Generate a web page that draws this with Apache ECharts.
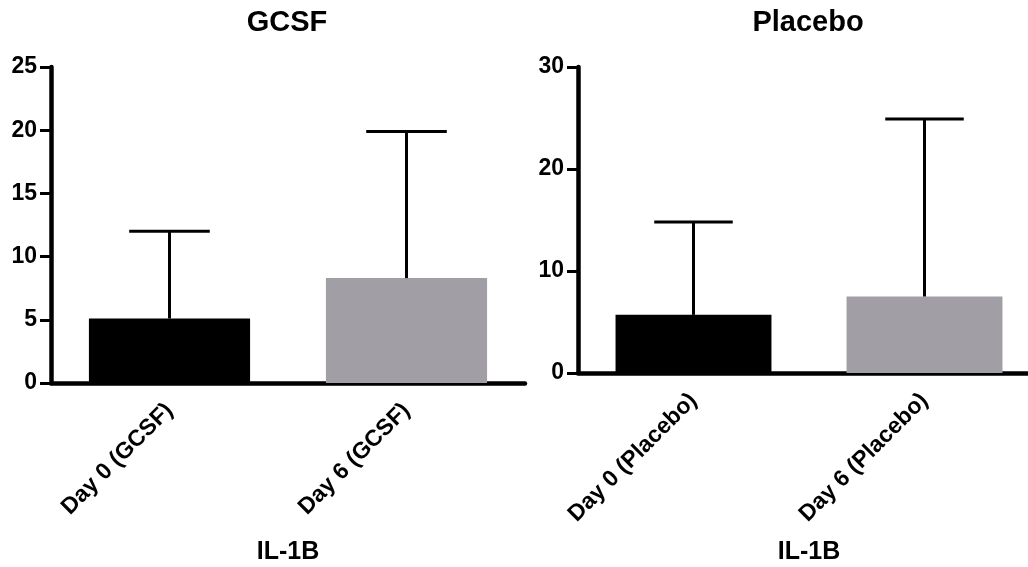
<!DOCTYPE html>
<html>
<head>
<meta charset="utf-8">
<script src="https://cdn.jsdelivr.net/npm/echarts@6/dist/echarts.min.js"></script>
<style>
  html, body { margin: 0; padding: 0; background: #fff; }
  #chart { width: 1028px; height: 567px; }
</style>
</head>
<body>
<div id="chart"></div>
<script>
// values (mean + upper end of error bar)
const catsGcsf = ['Day 0 (GCSF)', 'Day 6 (GCSF)']
const meanGcsf = [5.1, 8.3]
const upperGcsf = [12.0, 19.9]

const catsPlacebo = ['Day 0 (Placebo)', 'Day 6 (Placebo)']
const meanPlacebo = [5.7, 7.5]
const upperPlacebo = [14.8, 24.9]

const barColors = ['#000000', '#a19fa5']
const FONT = '"Liberation Sans", Arial, sans-serif'

function errorSeries(xi, mean, upper) {
  return {
    type: 'custom',
    xAxisIndex: xi,
    yAxisIndex: xi,
    z: 5,
    data: mean.map((m, i) => [i, m, upper[i]]),
    renderItem: (params, api) => {
      const i = api.value(0)
      const lo = api.coord([i, api.value(1)])
      const hi = api.coord([i, api.value(2)])
      const half = api.size([1, 0])[0] * 0.17
      const st = { stroke: '#000', lineWidth: 3 }
      return {
        type: 'group',
        children: [
          { type: 'line', shape: { x1: lo[0], y1: lo[1], x2: hi[0], y2: hi[1] }, style: st },
          { type: 'line', shape: { x1: hi[0] - half, y1: hi[1], x2: hi[0] + half, y2: hi[1] }, style: st },
        ],
      }
    },
  }
}

function xAxisFor(gi, cats) {
  return {
    type: 'category',
    gridIndex: gi,
    data: cats,
    name: 'IL-1B',
    nameLocation: 'middle',
    nameGap: gi === 0 ? 157 : 167,
    nameTextStyle: { fontFamily: FONT, fontWeight: 'bold', fontSize: 25, color: '#000' },
    axisLine: { lineStyle: { color: '#000', width: 4.5 } },
    axisTick: { alignWithLabel: true, length: 12, lineStyle: { color: '#000', width: 3 } },
    axisLabel: {
      rotate: 45, margin: 24, interval: 0,
      fontFamily: FONT, fontWeight: 'bold', fontSize: 23, color: '#000',
    },
  }
}

function yAxisFor(gi, max, step) {
  return {
    type: 'value',
    gridIndex: gi,
    min: 0, max: max, interval: step,
    splitLine: { show: false },
    axisLine: { show: true, lineStyle: { color: '#000', width: 4.5 } },
    axisTick: { show: true, length: 11, lineStyle: { color: '#000', width: 3 } },
    axisLabel: { margin: 14, fontFamily: FONT, fontWeight: 'bold', fontSize: 23, color: '#000' },
  }
}

const chart = echarts.init(document.getElementById('chart'), null, { renderer: 'canvas' })
chart.setOption({
  animation: false,
  textStyle: { fontFamily: FONT },
  graphic: [
    { type: 'text', x: 287, y: 8, style: { text: 'GCSF', textAlign: 'center', font: 'bold 29px ' + FONT, fill: '#000' } },
    { type: 'text', x: 808, y: 8, style: { text: 'Placebo', textAlign: 'center', font: 'bold 29px ' + FONT, fill: '#000' } },
  ],
  grid: [
    { left: 51, top: 67, width: 474, height: 316, outerBoundsMode: 'none' },
    { left: 578, top: 67, width: 462, height: 306, outerBoundsMode: 'none' },
  ],
  xAxis: [xAxisFor(0, catsGcsf), xAxisFor(1, catsPlacebo)],
  yAxis: [yAxisFor(0, 25, 5), yAxisFor(1, 30, 10)],
  series: [
    {
      type: 'bar', xAxisIndex: 0, yAxisIndex: 0, barWidth: '68%',
      data: meanGcsf.map((v, i) => ({ value: v, itemStyle: { color: barColors[i] } })),
    },
    errorSeries(0, meanGcsf, upperGcsf),
    {
      type: 'bar', xAxisIndex: 1, yAxisIndex: 1, barWidth: '67.5%',
      data: meanPlacebo.map((v, i) => ({ value: v, itemStyle: { color: barColors[i] } })),
    },
    errorSeries(1, meanPlacebo, upperPlacebo),
  ],
})
</script>
</body>
</html>
